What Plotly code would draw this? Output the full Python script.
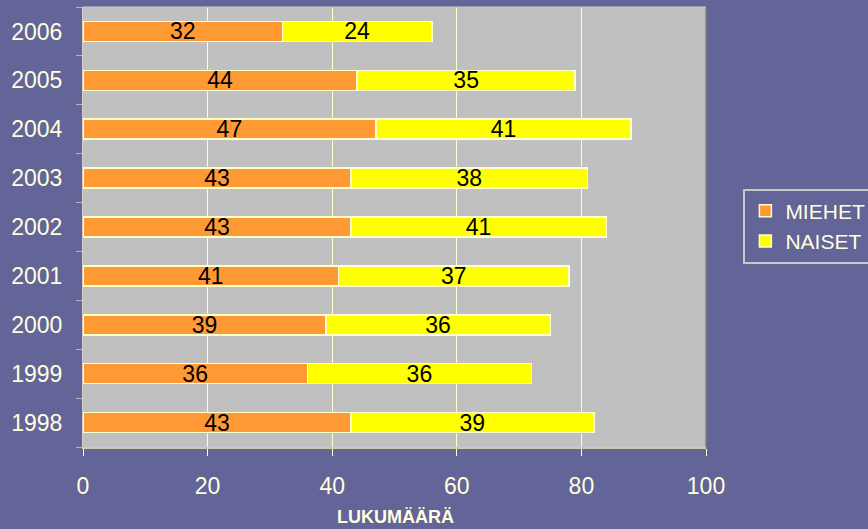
import plotly.graph_objects as go

years = ["1998", "1999", "2000", "2001", "2002", "2003", "2004", "2005", "2006"]
miehet = [43, 36, 39, 41, 43, 43, 47, 44, 32]
naiset = [39, 36, 36, 37, 41, 38, 41, 35, 24]
x_ticks = [0, 20, 40, 60, 80, 100]

BG = "#636498"
CREAM = "#FFFFE0"
FONT = "Liberation Sans, Arial, sans-serif"

fig = go.Figure()
fig.add_trace(go.Bar(
    y=years, x=miehet, name="MIEHET", orientation="h",
    marker=dict(color="#FF9933", line=dict(color="#FFFFCC", width=1.5)),
    text=miehet, textposition="inside", insidetextanchor="middle", textangle=0,
    textfont=dict(size=23, color="black", family=FONT), constraintext="none",
))
fig.add_trace(go.Bar(
    y=years, x=naiset, name="NAISET", orientation="h",
    marker=dict(color="#FFFF00", line=dict(color="#FFFFCC", width=1.5)),
    text=naiset, textposition="inside", insidetextanchor="middle", textangle=0,
    textfont=dict(size=23, color="black", family=FONT), constraintext="none",
))

fig.update_layout(
    width=868, height=529,
    margin=dict(l=83, r=162, t=7, b=82, autoexpand=False),
    paper_bgcolor=BG, plot_bgcolor="#C0C0C0",
    barmode="stack", bargap=0.59,
    font=dict(family=FONT, color=CREAM, size=23),
    showlegend=True,
    legend=dict(
        x=1.06, y=0.502, xanchor="left", yanchor="middle",
        bordercolor="#C8C8C8", borderwidth=2, bgcolor=BG,
        font=dict(size=21, color=CREAM), traceorder="normal",
        itemwidth=30, tracegroupgap=2,
    ),
    xaxis=dict(
        range=[0, 100], tickvals=x_ticks, showgrid=True,
        gridcolor="#FFFFCC", gridwidth=1, zeroline=False,
        ticks="outside", ticklen=7, tickcolor="#FFFFCC",
        ticklabelstandoff=10, automargin=False,
        showline=True, linecolor="#CFCBB0", linewidth=2,
        tickfont=dict(size=23, color=CREAM),
    ),
    yaxis=dict(
        categoryorder="array", categoryarray=years,
        showgrid=False, ticks="outside", tickson="boundaries",
        ticklen=6, tickcolor="#B8B8B8", ticklabelstandoff=15,
        showline=True, linecolor="#D0D0C8", linewidth=1, automargin=False,
        tickfont=dict(size=23, color=CREAM),
    ),
    annotations=[dict(
        text="<b>LUKUMÄÄRÄ</b>", xref="paper", yref="paper",
        x=0.502, y=-0.159, xanchor="center", yanchor="middle",
        showarrow=False, font=dict(size=18, color=CREAM, family=FONT),
    )],
)
fig.add_shape(type="line", xref="paper", yref="paper", x0=1, x1=1, y0=0, y1=1,
              line=dict(color="#808080", width=1.5))
fig.add_shape(type="line", xref="paper", yref="paper", x0=0, x1=1, y0=1, y1=1,
              line=dict(color="#C8C8C8", width=1))

fig.write_html("out.html", config={"displayModeBar": False},
               post_script="document.body.style.margin='0';document.body.style.background='" + BG + "';")
